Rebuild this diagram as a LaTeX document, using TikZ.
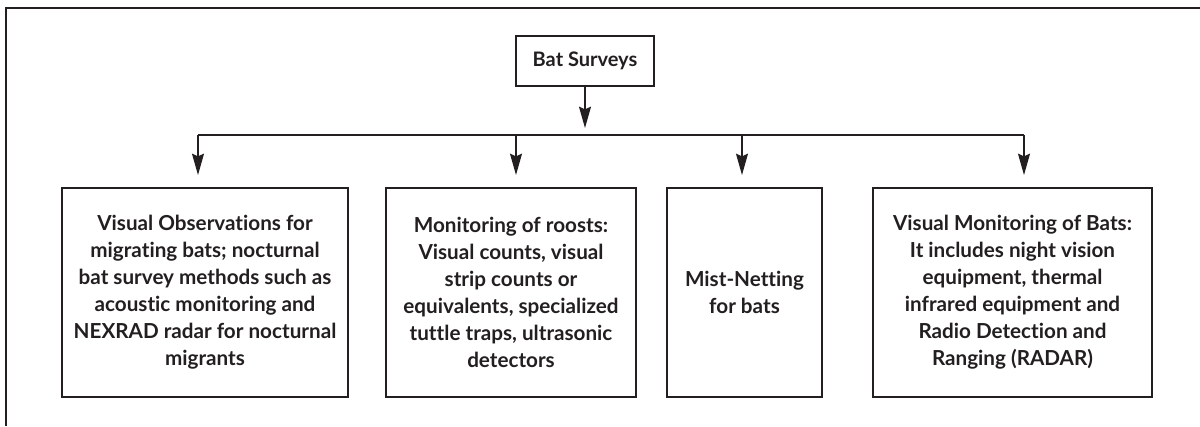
\documentclass[tikz,border=0pt]{standalone}
\usepackage{fontspec}
\setmainfont{Lato}[Ligatures=NoCommon]
\usetikzlibrary{arrows.meta}
\definecolor{ink}{HTML}{231F20}
\begin{document}
\begin{tikzpicture}[x=0.75pt,y=-0.75pt,
  box/.style={draw=ink,line width=1pt,text=ink,align=center,font=\bfseries\fontsize{15.5}{20.25}\selectfont,inner sep=0pt},
  conn/.style={draw=ink,line width=0.9pt},
  arr/.style={conn,-{Stealth[length=16pt,width=9pt,inset=2pt]}}]
\useasboundingbox (0,0) rectangle (1200,426);
\draw[ink,line width=2.2pt] (6,426) -- (6,8) -- (1201,8);
\node[box,font=\bfseries\fontsize{15}{18}\selectfont,minimum width=103.5pt,minimum height=37.5pt] (top) at (585,61) {Bat Surveys};
\node[box,minimum width=214.5pt,minimum height=156.75pt] (b1) at (205,292.5) {Visual Observations for\\migrating bats; nocturnal\\bat survey methods such as\\acoustic monitoring and\\NEXRAD radar for nocturnal\\migrants};
\node[box,minimum width=187.5pt,minimum height=156.75pt] (b2) at (511,292.5) {Monitoring of roosts:\\Visual counts, visual\\strip counts or\\equivalents, specialized\\tuttle traps, ultrasonic\\detectors};
\node[box,minimum width=116.25pt,minimum height=156.75pt] (b3) at (744.5,292.5) {Mist-Netting\\for bats};
\node[box,minimum width=209.25pt,minimum height=156.75pt] (b4) at (1012.5,292.5) {Visual Monitoring of Bats:\\It includes night vision\\equipment, thermal\\infrared equipment and\\Radio Detection and\\Ranging (RADAR)};
\coordinate (tip) at (585,128);
\coordinate (h1) at (198,135);
\coordinate (h2) at (516,135);
\coordinate (h3) at (742,135);
\coordinate (h4) at (1024,135);
\draw[arr] (top.south) -- (tip);
\draw[conn] (h1) -- (h4);
\draw[arr] (h1) -- (h1 |- 0,175);
\draw[arr] (h2) -- (h2 |- 0,175);
\draw[arr] (h3) -- (h3 |- 0,175);
\draw[arr] (h4) -- (h4 |- 0,175);
\end{tikzpicture}
\end{document}
